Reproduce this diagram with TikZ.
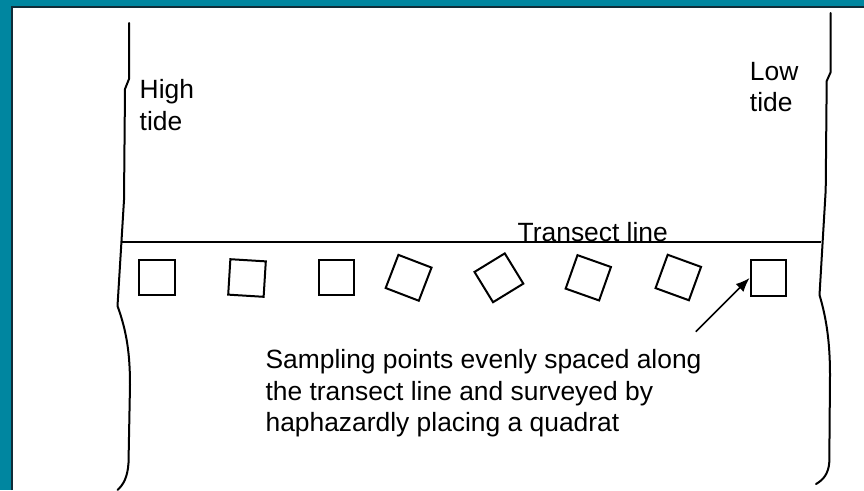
\documentclass[tikz,border=0pt]{standalone}
\usepackage{fontspec}
\setmainfont{Liberation Sans}
\usetikzlibrary{arrows.meta}
\definecolor{frameteal}{RGB}{0,134,160}
\definecolor{frameedge}{RGB}{16,44,56}
\tikzset{
  coast/.style={line width=2pt, line join=round, line cap=round},
  quad/.style={draw, line width=2pt, minimum size=35.5pt, inner sep=0pt},
  label/.style={inner sep=0pt, anchor=base west, align=left,
    font=\fontsize{26.4}{31.7}\selectfont},
}
\begin{document}
\begin{tikzpicture}[x=1pt, y=-1pt]
  \useasboundingbox (0,0) rectangle (864,490);
  % slide frame
  \fill[frameteal] (0,0) rectangle (864,490);
  \fill[white] (12,6.5) rectangle (864,490);
  \draw[frameedge, line width=2pt] (12,490) -- (12,6.5) -- (864,6.5);

  % shore lines
  \draw[coast] (129,23) -- (129,79) -- (125,89) -- (124,200) -- (117.5,306)
    .. controls (127,332) and (130,355) .. (130,385) -- (128.5,463)
    .. controls (127.5,478) and (123,485) .. (117.5,490);
  \draw[coast] (830.7,13) -- (830.7,72) -- (826.7,81) -- (825.7,190) -- (819.5,295)
    .. controls (827,320) and (830,345) .. (830,375) -- (829.3,462)
    .. controls (828.5,474) and (823,480) .. (816,484);

  % transect
  \coordinate (tl) at (122.3,242.3);
  \coordinate (tr) at (820.5,242.3);
  \draw[line width=2pt] (tl) -- (tr);
  \node[label] (tlabel) at (517.5,241) {Transect line};

  % multi-line labels are placed by the baseline of their last line
  \node[label] (high) at (139.5,130) {High\\tide};
  \node[label] (low) at (749.7,111.7) {Low\\tide};

  % quadrats
  \node[quad] (q1) at (157,277.7) {};
  \node[quad, rotate=-3.5] (q2) at (247,278) {};
  \node[quad] (q3) at (336.7,277.7) {};
  \node[quad, rotate=-21] (q4) at (408.6,277.8) {};
  \node[quad, rotate=31.5] (q5) at (498.9,277.8) {};
  \node[quad, rotate=-19.5] (q6) at (588.3,277.8) {};
  \node[quad, rotate=-20] (q7) at (678.3,277.5) {};
  \node[quad] (q8) at (768.3,278) {};

  % annotation
  \coordinate (tail) at (695.7,331.7);
  \draw[line width=1.6pt, -{Latex[length=14pt,width=11pt]}] (tail) -- (q8.west);
  \node[label] (note) at (265.4,431.7)
    {Sampling points evenly spaced along\\the transect line and surveyed by\\haphazardly placing a quadrat};
\end{tikzpicture}
\end{document}
